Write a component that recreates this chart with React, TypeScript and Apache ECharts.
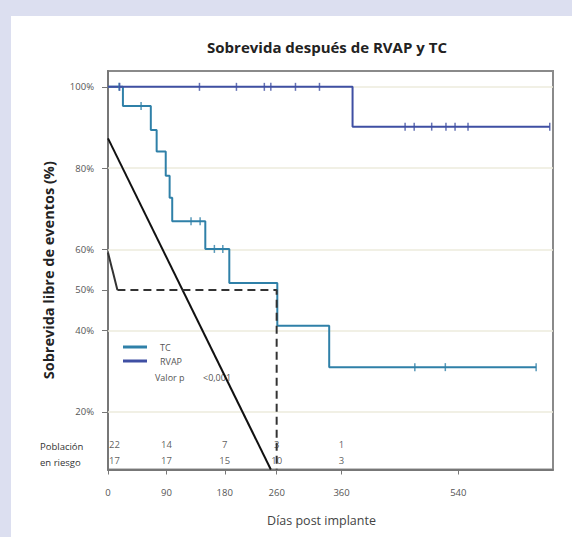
import React, { useEffect, useRef } from "react";
import * as echarts from "echarts";

const title = "Sobrevida después de RVAP y TC";
const xName = "Días post implante";
const yName = "Sobrevida libre de eventos (%)";

const xTicks = [0, 90, 180, 260, 360, 540];
const yTicks = [20, 40, 50, 60, 80, 100];
const gridValues = [20, 40, 60, 80, 100];

// Kaplan-Meier steps [day, survival %]
const tcSteps = [
  [0, 100], [23, 95.3], [66, 89.4], [75, 84.1], [89, 78.1], [95, 72.7], [99, 66.9],
  [150, 60.1], [187, 51.7], [261, 41.2], [341, 31.0], [660, 31.0],
];
const tcCensor = [
  [17, 100], [51, 95.3], [128, 66.9], [142, 66.9], [164, 60.1], [177, 60.1],
  [473, 31.0], [520, 31.0], [660, 31.0],
];
const rvapSteps = [[0, 100], [377, 90.2], [681, 90.2]];
const rvapCensor = [
  [18, 100], [141, 100], [198, 100], [241, 100], [251, 100], [289, 100], [326, 100],
  [458, 90.2], [472, 90.2], [499, 90.2], [521, 90.2], [535, 90.2], [555, 90.2], [681, 90.2],
];

// median construction lines
const longDiag = [[0, 87.3], [251, 5.8]];
const shortDiag = [[0, 59.2], [14.5, 50]];
const medianDash = [[14.5, 50], [260, 50], [260, 5.8]];

// numbers at risk
const atRiskDays = [0, 90, 180, 260, 360];
const atRiskTC = [22, 14, 7, 3, 1];
const atRiskRVAP = [17, 17, 15, 10, 3];
const rowTCy = 11.9;
const rowRVAPy = 8.1;

const pValueLabel = "Valor p";
const pValue = "<0,001";

const TC_COLOR = "#2f80a8";
const RVAP_COLOR = "#3f4fa3";
const FONT = "Open Sans";

export default function App() {
  const ref = useRef<HTMLDivElement>(null);
  useEffect(() => {
    document.body.style.margin = "0";
    const chart = echarts.init(ref.current!, null, { renderer: "svg" });
    const riskRow = (vals: number[], y: number) =>
      atRiskDays.map((d, i) => ({
        value: [d, y, String(vals[i])],
        label: i === 0 ? { align: "left", offset: [1, 0] } : undefined,
      }));
    chart.setOption({
      animation: false,
      backgroundColor: "#dcdff0",
      textStyle: { fontFamily: FONT },
      grid: {
        left: 108, right: 19, top: 71, bottom: 67.5,
        show: true, borderColor: "#8a8a8a", borderWidth: 2, backgroundColor: "#fff",
      },
      graphic: [
        { type: "rect", z: -10, shape: { x: 11, y: 16, width: 561, height: 521 }, style: { fill: "#ffffff" } },
        {
          type: "text", x: 327, y: 47,
          style: { text: title, fontFamily: FONT, fontSize: 15, fontWeight: "bold", fill: "#222", textAlign: "center", textVerticalAlign: "middle" },
        },
        { type: "text", x: 40, y: 446, style: { text: "Población", fontFamily: FONT, fontSize: 9.5, fill: "#333", textVerticalAlign: "middle" } },
        { type: "text", x: 40, y: 462, style: { text: "en riesgo", fontFamily: FONT, fontSize: 9.5, fill: "#333", textVerticalAlign: "middle" } },
        { type: "text", x: 155, y: 377, style: { text: pValueLabel, fontFamily: FONT, fontSize: 9, fill: "#555", textVerticalAlign: "middle" } },
        { type: "text", x: 203, y: 377, style: { text: pValue, fontFamily: FONT, fontSize: 9, fill: "#555", textVerticalAlign: "middle" } },
      ],
      legend: {
        data: ["TC", "RVAP"],
        orient: "vertical",
        left: 118, top: 336,
        icon: "rect", itemWidth: 24, itemHeight: 3, itemGap: 2,
        textStyle: { fontFamily: FONT, fontSize: 9, color: "#555", padding: [0, 0, 0, 8], lineHeight: 12 },
        selectedMode: false,
      },
      xAxis: {
        type: "value", min: 0, max: 686,
        name: xName, nameLocation: "middle", nameGap: 44,
        nameTextStyle: { fontFamily: FONT, fontSize: 12.5, color: "#444", padding: [0, 18, 0, 0] },
        axisLine: { show: true, lineStyle: { color: "#777", width: 2 } },
        axisTick: { show: true, customValues: xTicks, length: 5, lineStyle: { color: "#777" } },
        axisLabel: { customValues: xTicks, margin: 18, fontFamily: FONT, fontSize: 9.5, color: "#555" },
        splitLine: { show: false },
      },
      yAxis: {
        type: "value", min: 5.8, max: 103.9,
        name: yName, nameLocation: "middle", nameGap: 52,
        nameTextStyle: { fontFamily: FONT, fontSize: 14.5, fontWeight: "bold", color: "#222" },
        axisLine: { show: true, lineStyle: { color: "#777", width: 2 } },
        axisTick: { show: true, customValues: yTicks, length: 6, lineStyle: { color: "#777" } },
        axisLabel: { customValues: yTicks, margin: 14, fontFamily: FONT, fontSize: 9.5, color: "#555", formatter: (v: number) => v + "%" },
        splitLine: { show: false },
      },
      series: [
        {
          name: "grid", type: "line", data: [], silent: true, z: 1,
          markLine: {
            silent: true, symbol: "none", label: { show: false }, z: 1,
            lineStyle: { color: "#ecebdc", width: 1.5, type: "solid" },
            data: gridValues.map((v) => ({ yAxis: v })),
          },
        },
        {
          name: "TC", type: "line", step: "end", data: tcSteps, showSymbol: false, symbol: "none",
          lineStyle: { color: TC_COLOR, width: 2 }, itemStyle: { color: TC_COLOR }, z: 3,
        },
        {
          name: "TC-c", type: "scatter", data: tcCensor, symbol: "rect", symbolSize: [1.5, 8],
          itemStyle: { color: TC_COLOR }, z: 3,
        },
        {
          name: "RVAP", type: "line", step: "end", data: rvapSteps, showSymbol: false, symbol: "none",
          lineStyle: { color: RVAP_COLOR, width: 2 }, itemStyle: { color: RVAP_COLOR }, z: 3,
        },
        {
          name: "RVAP-c", type: "scatter", data: rvapCensor, symbol: "rect", symbolSize: [1.5, 8],
          itemStyle: { color: RVAP_COLOR }, z: 3,
        },
        {
          name: "diag1", type: "line", data: longDiag, showSymbol: false, symbol: "none",
          lineStyle: { color: "#111", width: 2 }, z: 4,
        },
        {
          name: "diag2", type: "line", data: shortDiag, showSymbol: false, symbol: "none",
          lineStyle: { color: "#333", width: 2 }, z: 4,
        },
        {
          name: "median", type: "line", data: medianDash, showSymbol: false, symbol: "none",
          lineStyle: { color: "#333", width: 2, type: [8, 5] }, z: 4,
        },
        {
          name: "riskTC", type: "scatter", data: riskRow(atRiskTC, rowTCy), symbolSize: 0, silent: true,
          label: { show: true, position: [0, 0], align: "center", verticalAlign: "middle", formatter: (p: any) => p.data.value[2], fontFamily: FONT, fontSize: 9.5, color: "#333" },
          z: 5,
        },
        {
          name: "riskRVAP", type: "scatter", data: riskRow(atRiskRVAP, rowRVAPy), symbolSize: 0, silent: true,
          label: { show: true, position: [0, 0], align: "center", verticalAlign: "middle", formatter: (p: any) => p.data.value[2], fontFamily: FONT, fontSize: 9.5, color: "#333" },
          z: 5,
        },
      ],
    });
    return () => chart.dispose();
  }, []);
  return <div ref={ref} style={{ width: 572, height: 537 }} />;
}
